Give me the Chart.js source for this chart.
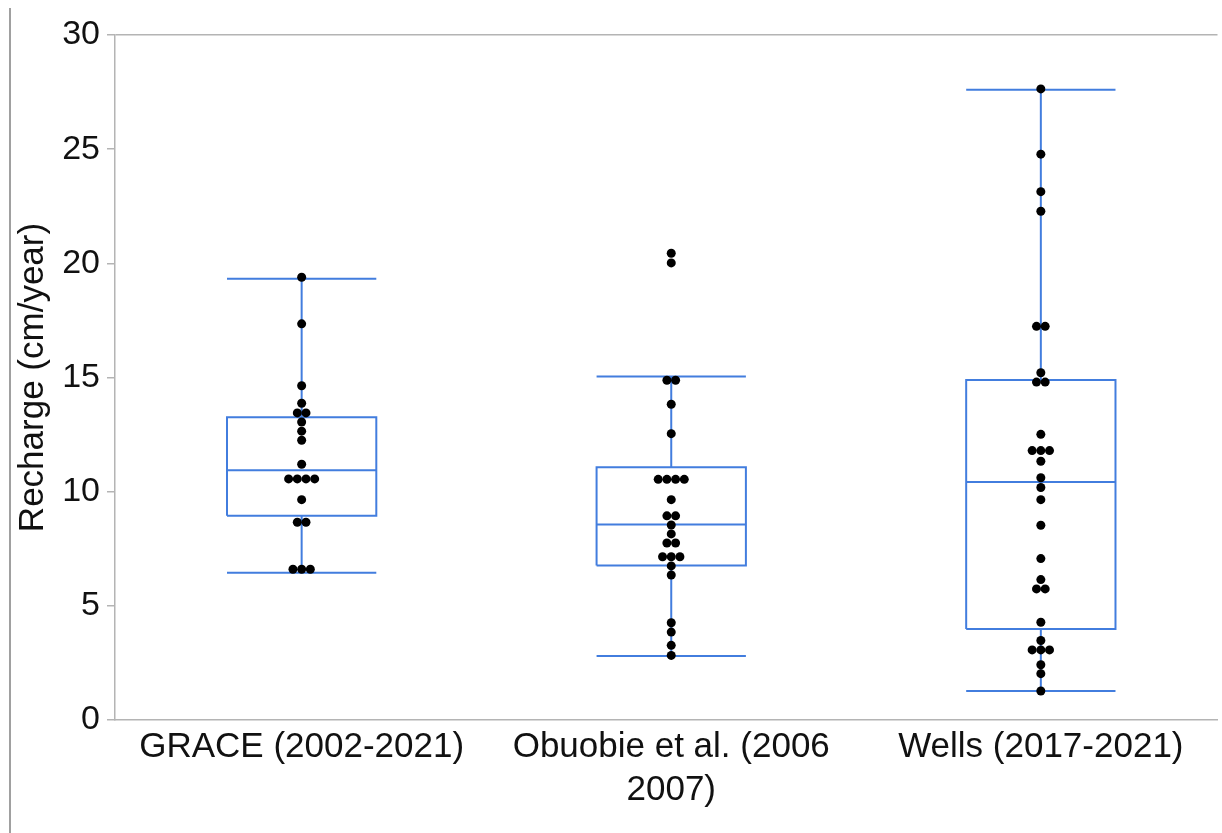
<!DOCTYPE html>
<html>
<head>
<meta charset="utf-8">
<script src="https://cdn.jsdelivr.net/npm/chart.js@4.4.1/dist/chart.umd.min.js"></script>
<style>
  html, body { margin: 0; padding: 0; background: #fff; }
  #wrap { position: relative; width: 1222px; height: 833px; }
  #edge { position: absolute; left: 9px; top: 8px; bottom: 0; width: 2px; background: #a0a0a0; }
</style>
</head>
<body>
<div id="wrap"><div id="edge"></div><canvas id="rechargeChart"></canvas></div>
<script>
// categories (multi-line labels as arrays)
const categories = [
    ['GRACE (2002-2021)'],
    ['Obuobie et al. (2006', '2007)'],
    ['Wells (2017-2021)']
];

// individual yearly recharge values, cm/year
const graceValues = [19.39, 17.35, 14.64, 13.87, 13.45, 13.45, 13.05, 12.65, 12.25, 11.2,
    10.56, 10.56, 10.56, 10.56, 9.65, 8.66, 8.66, 6.6, 6.6, 6.6];
const obuobieValues = [20.44, 20.02, 14.88, 14.88, 13.83, 12.54, 10.54, 10.54, 10.54, 10.54,
    9.65, 8.94, 8.94, 8.54, 8.15, 7.75, 7.75, 7.15, 7.15, 7.15, 6.75, 6.35, 4.26, 3.85, 3.27, 2.83];
const wellsValues = [27.64, 24.78, 23.14, 22.28, 17.24, 17.24, 15.21, 14.8, 14.8, 12.51,
    11.8, 11.8, 11.8, 11.33, 10.61, 10.18, 9.65, 8.53, 7.07, 6.15, 5.74, 5.74, 4.28, 3.48,
    3.07, 3.07, 3.07, 2.42, 2.03, 1.27];

// box statistics per category
const whiskerLow = [6.45, 2.8, 1.27];
const q1 = [8.95, 6.77, 3.99];
const medians = [10.94, 8.56, 10.42];
const q3 = [13.26, 11.07, 14.89];
const whiskerHigh = [19.33, 15.04, 27.6];

const yTicks = [0, 5, 10, 15, 20, 25, 30];

const BLUE = 'rgb(66, 125, 222)';
const AXIS_GREY = '#b4b4b4';
const BOX_HALF = 0.202;
const DOT_GAP = 0.0235;

Chart.defaults.font.family = "'Liberation Sans', Arial, Helvetica, sans-serif";
Chart.defaults.color = '#111';

// spread repeated values sideways, like a dot swarm
function swarm(values, idx) {
    const counts = {};
    values.forEach(v => { counts[v] = (counts[v] || 0) + 1; });
    const seen = {};
    return values.map(v => {
        const n = counts[v];
        const k = seen[v] = (seen[v] || 0) + 1;
        return { x: idx + (k - 1 - (n - 1) / 2) * DOT_GAP, y: v };
    });
}

function boxShape(i) {
    const l = i - BOX_HALF, r = i + BOX_HALF;
    const gap = { x: i, y: null };
    return [
        { x: l, y: q1[i] }, { x: r, y: q1[i] }, { x: r, y: q3[i] }, { x: l, y: q3[i] }, { x: l, y: q1[i] }, gap,
        { x: l, y: medians[i] }, { x: r, y: medians[i] }, gap,
        { x: i, y: q3[i] }, { x: i, y: whiskerHigh[i] }, gap,
        { x: l, y: whiskerHigh[i] }, { x: r, y: whiskerHigh[i] }, gap,
        { x: i, y: q1[i] }, { x: i, y: whiskerLow[i] }, gap,
        { x: l, y: whiskerLow[i] }, { x: r, y: whiskerLow[i] }
    ];
}

const dots = [graceValues, obuobieValues, wellsValues].flatMap((vals, i) => swarm(vals, i));

const boxDatasets = categories.map((c, i) => ({
    data: boxShape(i),
    showLine: true,
    spanGaps: false,
    borderColor: BLUE,
    borderWidth: 2,
    borderJoinStyle: 'miter',
    pointRadius: 0,
    order: 1
}));

new Chart(document.getElementById('rechargeChart'), {
    type: 'scatter',
    data: {
        datasets: [{
            data: dots,
            backgroundColor: '#000',
            borderColor: '#000',
            pointRadius: 4.5,
            borderWidth: 0,
            order: 0
        }, ...boxDatasets]
    },
    options: {
        responsive: true,
        maintainAspectRatio: false,
        animation: false,
        layout: { padding: { top: 35, right: 0, bottom: 0, left: 0 } },
        plugins: { legend: { display: false }, tooltip: { enabled: false } },
        scales: {
            x: {
                type: 'linear',
                min: -0.505,
                max: 2.478,
                afterBuildTicks: scale => { scale.ticks = categories.map((c, i) => ({ value: i })); },
                afterFit: scale => { scale.height = 113; },
                ticks: {
                    autoSkip: false,
                    maxRotation: 0,
                    padding: 5,
                    color: '#111',
                    font: { size: 35, lineHeight: 1.25 },
                    callback: (val, idx) => categories[idx]
                },
                grid: { display: false, drawTicks: false },
                border: { display: true, color: AXIS_GREY, width: 1.5 }
            },
            y: {
                min: 0,
                max: 30,
                afterBuildTicks: scale => { scale.ticks = yTicks.map(v => ({ value: v })); },
                afterFit: scale => { scale.width = 115; },
                ticks: { padding: 7, color: '#111', font: { size: 34 } },
                grid: {
                    color: ctx => (ctx.tick && ctx.tick.value === 30 ? AXIS_GREY : 'rgba(0,0,0,0)'),
                    tickColor: AXIS_GREY,
                    tickLength: 8,
                    lineWidth: 1.5
                },
                border: { display: true, color: AXIS_GREY, width: 1.5 },
                title: {
                    display: true,
                    text: 'Recharge (cm/year)',
                    color: '#111',
                    font: { size: 35 },
                    padding: { top: 12, bottom: 0 }
                }
            }
        }
    }
});
</script>
</body>
</html>
